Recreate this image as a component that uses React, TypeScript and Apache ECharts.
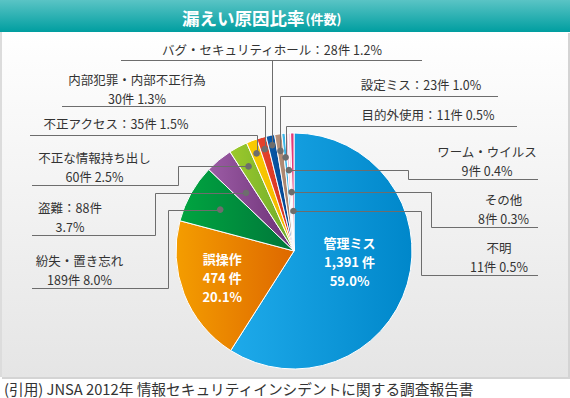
import React, { useEffect, useRef } from 'react';
import * as echarts from 'echarts';

// ---- data ----
const categories = [
  '管理ミス',
  '誤操作',
  '紛失・置き忘れ',
  '盗難',
  '不正な情報持ち出し',
  '不正アクセス',
  '内部犯罪・内部不正行為',
  'バグ・セキュリティホール',
  '設定ミス',
  '目的外使用',
  'ワーム・ウイルス',
  'その他',
  '不明',
];
const counts = [1391, 474, 189, 88, 60, 35, 30, 28, 23, 11, 9, 8, 11];
const percents = ['59.0', '20.1', '8.0', '3.7', '2.5', '1.5', '1.3', '1.2', '1.0', '0.5', '0.4', '0.3', '0.5'];
const titleMain = '漏えい原因比率';
const titleSub = '(件数)';
const footer = '(引用) JNSA 2012年 情報セキュリティインシデントに関する調査報告書';

// ---- styles / layout ----
const FONT = "'Noto Sans CJK JP', 'Noto Sans', sans-serif";
const sliceColors: [string, string][] = [
  ['#1eaaea', '#0087ca'],
  ['#f49d00', '#de6800'],
  ['#00a540', '#00763a'],
  ['#9c5ca5', '#6b3075'],
  ['#9dc92b', '#6cab2d'],
  ['#f9cd00', '#f2b500'],
  ['#e6432d', '#d3321f'],
  ['#0b5caa', '#003e8a'],
  ['#b9937d', '#9f7964'],
  ['#40baeb', '#28a5dc'],
  ['#f6c3d7', '#f0afc7'],
  ['#fadbe7', '#f5c9d9'],
  ['#ea4882', '#de2f6f'],
];
const CX = 294;
const CY = 251;
const R = 118;
const LINE = '#6d6d6d';
const LH = 18.2;
const OUTER_FS = 12.5;

type Callout = {
  r: number;
  fmt: 'two' | 'one' | 'split';
  cx: number;
  y: number; // vertical centre of the text block
  route: 'left' | 'up' | 'right';
  elbowX?: number;
  lineY: number;
  x1: number;
  x2: number;
};

const callouts: (Callout | null)[] = [
  null,
  null,
  { r: 84.6, fmt: 'two', cx: 79.5, y: 270, route: 'left', elbowX: 168.5, lineY: 288.5, x1: 32, x2: 0 },
  { r: 75.3, fmt: 'split', cx: 70, y: 217, route: 'left', elbowX: 155.5, lineY: 235.5, x1: 32, x2: 0 },
  { r: 96, fmt: 'two', cx: 94.5, y: 167, route: 'left', elbowX: 178.5, lineY: 185.5, x1: 32, x2: 0 },
  { r: 104.5, fmt: 'one', cx: 116, y: 123, route: 'up', lineY: 135.5, x1: 30, x2: 240 },
  { r: 106, fmt: 'two', cx: 137, y: 89, route: 'up', lineY: 106.5, x1: 62, x2: 240 },
  { r: 108, fmt: 'one', cx: 272, y: 49, route: 'up', lineY: 60.5, x1: 121, x2: 422 },
  { r: 101, fmt: 'one', cx: 421, y: 84, route: 'up', lineY: 96.5, x1: 300, x2: 498 },
  { r: 94, fmt: 'one', cx: 428, y: 114, route: 'up', lineY: 126.5, x1: 300, x2: 517 },
  { r: 81, fmt: 'two', cx: 487, y: 161, route: 'right', elbowX: 408.5, lineY: 179.5, x1: 0, x2: 538 },
  { r: 59, fmt: 'two', cx: 503.5, y: 209, route: 'right', elbowX: 431.5, lineY: 227.5, x1: 0, x2: 538 },
  { r: 40, fmt: 'two', cx: 499, y: 257, route: 'right', elbowX: 421.5, lineY: 275.5, x1: 0, x2: 538 },
];

// inner label nudges (relative to the pie's own "inside" anchor)
const innerNudge: Record<number, [number, number]> = { 0: [-4, -7], 1: [-14, 4] };

function fmtCount(n: number) {
  return n.toLocaleString('en-US');
}

function buildOption() {
  const total = counts.reduce((a, b) => a + b, 0);
  const data = categories.map((name, i) => ({
    name,
    value: counts[i],
    itemStyle: {
      color: {
        type: 'linear',
        x: 0,
        y: 0,
        x2: 1,
        y2: 0,
        colorStops: [
          { offset: 0, color: sliceColors[i][0] },
          { offset: 1, color: sliceColors[i][1] },
        ],
      },
    },
    label: { show: i < 2 },
  }));

  const graphics: any[] = [];
  // panel shadow + panel
  graphics.push({
    type: 'rect',
    z: -20,
    shape: { x: 2, y: 33, width: 568, height: 346 },
    style: { fill: '#d4d4d4' },
  });
  graphics.push({
    type: 'rect',
    z: -19,
    shape: { x: 0, y: 32, width: 568, height: 345 },
    style: {
      fill: {
        type: 'linear',
        x: 0,
        y: 0,
        x2: 0,
        y2: 1,
        colorStops: [
          { offset: 0, color: '#ffffff' },
          { offset: 1, color: '#e5e5e5' },
        ],
      },
    },
  });
  graphics.push({
    type: 'rect',
    z: -18,
    shape: { x: 0, y: 32, width: 2, height: 345 },
    style: { fill: '#dcdcdc' },
  });
  // title bar
  graphics.push({
    type: 'rect',
    z: -17,
    shape: { x: 0, y: 0, width: 570, height: 32 },
    style: {
      fill: {
        type: 'linear',
        x: 0,
        y: 0,
        x2: 0,
        y2: 1,
        colorStops: [
          { offset: 0, color: '#5ac4c5' },
          { offset: 1, color: '#009ea0' },
        ],
      },
    },
  });
  graphics.push({
    type: 'text',
    z: 20,
    x: 182,
    y: 17,
    style: {
      text: `{a|${titleMain}}{b|${titleSub}}`,
      textVerticalAlign: 'middle',
      verticalAlign: 'middle',
      rich: {
        a: { fontSize: 17.5, fontWeight: 'bold', fill: '#ffffff', color: '#ffffff', fontFamily: FONT },
        b: { fontSize: 13, fontWeight: 'bold', fill: '#ffffff', color: '#ffffff', fontFamily: FONT, padding: [2, 0, 0, 1] },
      },
    },
  });
  // footer
  graphics.push({
    type: 'text',
    z: 20,
    x: 4,
    y: 388,
    style: {
      text: footer,
      fontSize: 14.7,
      fontFamily: FONT,
      fill: '#333333',
      textVerticalAlign: 'middle',
      verticalAlign: 'middle',
    },
  });

  // callouts
  let cum = 0;
  categories.forEach((name, i) => {
    const mid = ((cum + counts[i] / 2) / total) * Math.PI * 2;
    cum += counts[i];
    const c = callouts[i];
    if (!c) return;
    const dx = CX + c.r * Math.sin(mid);
    const dy = CY - c.r * Math.cos(mid);
    const hy = Math.round(dy) + 0.5;
    const vx = Math.round(dx) + 0.5;
    let pts: number[][] = [];
    if (c.route === 'left') {
      pts = [[dx, hy], [c.elbowX!, hy], [c.elbowX!, c.lineY], [c.x1, c.lineY]];
    } else if (c.route === 'right') {
      pts = [[dx, hy], [c.elbowX!, hy], [c.elbowX!, c.lineY], [c.x2, c.lineY]];
    } else {
      pts = [[vx, dy], [vx, c.lineY]];
      graphics.push({
        type: 'polyline',
        z: 30,
        shape: { points: [[Math.min(c.x1, vx), c.lineY], [Math.max(c.x2, vx), c.lineY]] },
        style: { stroke: LINE, lineWidth: 1, fill: 'none' },
        silent: true,
      });
    }
    graphics.push({
      type: 'polyline',
      z: 30,
      shape: { points: pts },
      style: { stroke: LINE, lineWidth: 1, fill: 'none' },
      silent: true,
    });
    graphics.push({
      type: 'circle',
      z: 31,
      shape: { cx: dx, cy: dy, r: 3.3 },
      style: { fill: LINE },
      silent: true,
    });
    let lines: string[];
    if (c.fmt === 'one') lines = [`${name}：${fmtCount(counts[i])}件 ${percents[i]}%`];
    else if (c.fmt === 'split') lines = [`${name}：${fmtCount(counts[i])}件`, `${percents[i]}%`];
    else lines = [name, `${fmtCount(counts[i])}件 ${percents[i]}%`];
    graphics.push({
      type: 'text',
      z: 32,
      x: c.cx,
      y: c.y,
      style: {
        text: lines.join('\n'),
        fontSize: OUTER_FS,
        lineHeight: LH,
        fontFamily: FONT,
        fill: '#333333',
        textAlign: 'center',
        align: 'center',
        textVerticalAlign: 'middle',
        verticalAlign: 'middle',
      },
      silent: true,
    });
  });

  return {
    animation: false,
    graphic: { elements: graphics },
    series: [
      {
        type: 'pie',
        z: 2,
        center: [CX, CY],
        radius: R,
        startAngle: 90,
        clockwise: true,
        silent: true,
        data,
        itemStyle: { borderColor: '#ffffff', borderWidth: 1 },
        label: {
          show: false,
          position: 'inside',
          color: '#ffffff',
          fontSize: 13,
          fontWeight: 'bold',
          fontFamily: FONT,
          lineHeight: 19,
          align: 'center',
          formatter: (p: any) =>
            `${p.name}\n${fmtCount(counts[p.dataIndex])} 件\n${percents[p.dataIndex]}%`,
        },
        labelLine: { show: false },
        labelLayout: (p: any) => {
          const n = innerNudge[p.dataIndex];
          return n ? { dx: n[0], dy: n[1] } : {};
        },
      },
    ],
  };
}

export default function App() {
  const ref = useRef<HTMLDivElement>(null);
  useEffect(() => {
    if (!ref.current) return;
    const chart = echarts.init(ref.current, undefined, { renderer: 'svg' });
    chart.setOption(buildOption() as any);
    return () => chart.dispose();
  }, []);
  return (
    <div
      ref={ref}
      style={{ position: 'fixed', left: 0, top: 0, width: 570, height: 398, background: '#ffffff' }}
    />
  );
}
